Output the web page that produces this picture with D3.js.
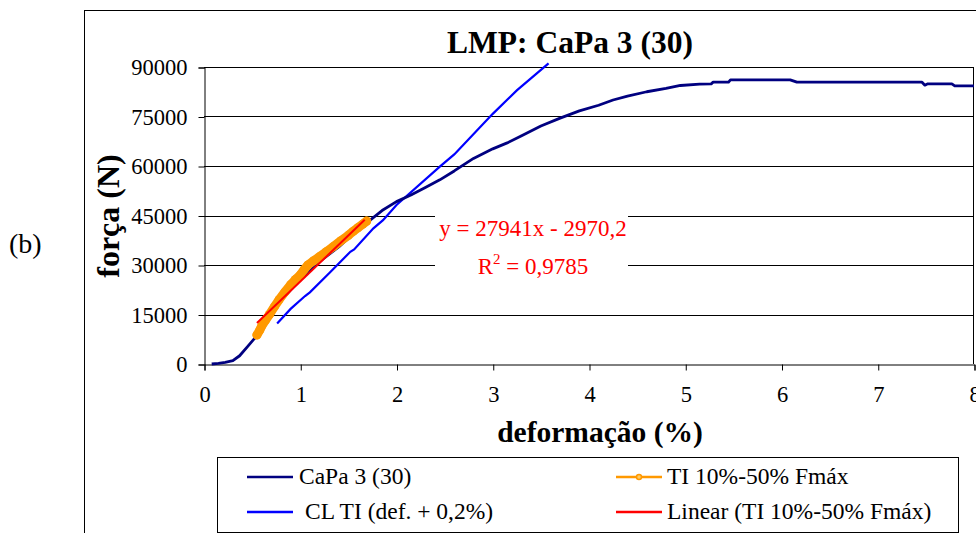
<!DOCTYPE html>
<html><head><meta charset="utf-8">
<script src="https://cdn.jsdelivr.net/npm/d3@7"></script>
<style>body{margin:0;background:#fff}svg{display:block}svg text{font-family:'Liberation Serif','Times New Roman',Tinos,'DejaVu Serif',serif !important}</style>
</head><body><svg id="c" width="976" height="533"></svg>
<script>
const xTicks = [0,1,2,3,4,5,6,7,8];
const yTicks = [0,15000,30000,45000,60000,75000,90000];
// CaPa 3 (30) : [deformação %, força N]
const capa = [[0.08,0],[0.15,200],[0.22,500],[0.3,1000],[0.37,2500],[0.45,5200],[0.55,8600],[0.65,13500],[0.75,17500],[0.9,22500],[1.05,27000],[1.2,31000],[1.4,35500],[1.55,39500],[1.7,43000],[1.85,46500],[2.0,49200],[2.15,51200],[2.3,53500],[2.45,55800],[2.6,58500],[2.8,62300],[3.0,65200],[3.15,67000],[3.3,69200],[3.5,72100],[3.7,74500],[3.9,76700],[4.1,78400],[4.25,80000],[4.4,81200],[4.6,82500],[4.8,83500],[4.95,84400],[5.15,84800],[5.27,84900],[5.29,85400],[5.45,85400],[5.47,86100],[6.09,86100],[6.16,85400],[7.46,85400],[7.49,84500],[7.52,84900],[7.77,84900],[7.8,84300],[8.0,84300]];
// TI 10%-50% Fmáx
const ti = [[0.55,8800],[0.58,10300],[0.6,11500],[0.64,13300],[0.68,15000],[0.73,17300],[0.78,19500],[0.84,21800],[0.9,24000],[0.95,25600],[1.0,27000],[1.04,28600],[1.08,30000],[1.14,31300],[1.2,32500],[1.27,34000],[1.34,35500],[1.42,37300],[1.5,39000],[1.55,40200],[1.6,41300],[1.65,42400],[1.69,43300]];
// CL TI (def. + 0,2%)
const cl = [[0.76,12300],[0.9,16700],[1.05,20600],[1.1,21700],[1.3,27500],[1.52,34000],[1.56,34700],[1.76,41100],[1.86,43600],[2.0,48200],[2.45,59800],[2.6,63500],[3.0,75800],[3.25,82900],[3.58,91100]];
// Linear (TI 10%-50% Fmáx)
const lin = [[0.55,12400],[1.67,43700]];
const eqText = ["y = 27941x - 2970,2","R","2"," = 0,9785"];

const svg = d3.select("#c");
const x = d3.scaleLinear().domain([0,8]).range([204,974]);
const y = d3.scaleLinear().domain([0,90000]).range([364,67]);

// outer frame
svg.append("rect").attr("x",84.5).attr("y",10.5).attr("width",1000).attr("height",600)
  .attr("fill","none").attr("stroke","#000").attr("stroke-width",1);

// gridlines
svg.append("g").selectAll("line").data(yTicks.filter(d=>d>0)).join("line")
  .attr("x1",x(0)).attr("x2",x(8)).attr("y1",d=>Math.round(y(d))+0.5).attr("y2",d=>Math.round(y(d))+0.5)
  .attr("stroke","#000").attr("stroke-width",1);
// right border
svg.append("line").attr("x1",Math.round(x(8))-0.5).attr("x2",Math.round(x(8))-0.5).attr("y1",y(90000)).attr("y2",y(0))
  .attr("stroke","#000");

// axes
const gy = svg.append("g").attr("transform",`translate(${Math.round(x(0))+0.5},0.5)`)
  .call(d3.axisLeft(y).tickValues(yTicks).tickSize(6).tickPadding(11).tickFormat(d3.format("d")));
const gx = svg.append("g").attr("transform",`translate(0.5,${Math.round(y(0))+0.5})`)
  .call(d3.axisBottom(x).tickValues(xTicks).tickSize(6).tickPadding(16).tickFormat(d3.format("d")));
[gy,gx].forEach(g=>{
  g.attr("font-family",null);
  g.select(".domain").attr("stroke","#000");
  g.selectAll("line").attr("stroke","#000");
  g.selectAll("text").attr("font-size",22.5).attr("fill","#000");
});

const line = d3.line().x(d=>x(d[0])).y(d=>y(d[1]));

// equation label background
const eqG = svg.append("g");
eqG.append("rect").attr("x",435).attr("y",200).attr("width",193).attr("height",82).attr("fill","#fff");

// series
svg.append("path").datum(cl).attr("d",line).attr("fill","none").attr("stroke","#0000ff").attr("stroke-width",2.2);
svg.append("path").datum(capa).attr("d",line).attr("fill","none").attr("stroke","#000080").attr("stroke-width",2.8).attr("stroke-linejoin","round");
svg.append("path").datum(ti).attr("d",line).attr("fill","none").attr("stroke","#ff9900").attr("stroke-width",9).attr("stroke-linecap","round").attr("stroke-linejoin","round");
svg.append("g").selectAll("circle").data(ti).join("circle")
  .attr("cx",d=>x(d[0])).attr("cy",d=>y(d[1])).attr("r",4.5).attr("fill","#ff9900");
svg.append("path").datum(lin).attr("d",line).attr("fill","none").attr("stroke","#ff0000").attr("stroke-width",2);

// equation text
eqG.append("text").attr("x",533).attr("y",236).attr("text-anchor","middle").attr("font-size",23).attr("fill","#ff0000").text(eqText[0]);
const t2 = eqG.append("text").attr("x",533).attr("y",274).attr("text-anchor","middle").attr("font-size",23).attr("fill","#ff0000");
t2.append("tspan").text(eqText[1]);
t2.append("tspan").attr("dy",-10).attr("font-size",15).text(eqText[2]);
t2.append("tspan").attr("dy",10).text(eqText[3]);

// titles
svg.append("text").attr("x",570).attr("y",53).attr("text-anchor","middle").attr("font-size",31.5).attr("font-weight","bold").text("LMP: CaPa 3 (30)");
svg.append("text").attr("transform","translate(119,216) rotate(-90)").attr("text-anchor","middle").attr("font-size",32).attr("font-weight","bold").text("força (N)");
svg.append("text").attr("x",600).attr("y",442).attr("text-anchor","middle").attr("font-size",29.5).attr("font-weight","bold").text("deformação (%)");
svg.append("text").attr("x",9).attr("y",253).attr("font-size",28).text("(b)");

// legend
const lg = svg.append("g");
lg.append("rect").attr("x",217.5).attr("y",457.5).attr("width",741).attr("height",75).attr("fill","#fff").attr("stroke","#000");
const leg = [
  {name:"CaPa 3 (30)", color:"#000080", lx:247, ty:477, tx:299, marker:false},
  {name:"CL TI (def. + 0,2%)", color:"#0000ff", lx:247, ty:512, tx:305, marker:false},
  {name:"TI 10%-50% Fmáx", color:"#ff9900", lx:616, ty:477, tx:667, marker:true},
  {name:"Linear (TI 10%-50% Fmáx)", color:"#ff0000", lx:616, ty:512, tx:667, marker:false}
];
leg.forEach(d=>{
  lg.append("line").attr("x1",d.lx).attr("x2",d.lx+46).attr("y1",d.ty).attr("y2",d.ty).attr("stroke",d.color).attr("stroke-width",2.5);
  if(d.marker) lg.append("circle").attr("cx",d.lx+23).attr("cy",d.ty).attr("r",2.5).attr("fill","#ffcc66").attr("stroke",d.color).attr("stroke-width",1.5);
  lg.append("text").attr("x",d.tx).attr("y",d.ty+7).attr("font-size",23.5).text(d.name);
});
</script></body></html>
